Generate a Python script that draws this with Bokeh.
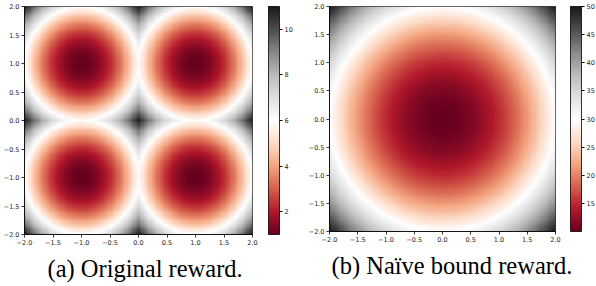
import numpy as np
from bokeh.plotting import figure
from bokeh.models import (LinearColorMapper, ColorBar, FixedTicker, Range1d,
                          CustomJSTickFormatter, Title, LinearAxis)
from bokeh.layouts import row
from bokeh.embed import file_html
from bokeh.resources import INLINE

# ---- data ----
axis_ticks = [-2.0, -1.5, -1.0, -0.5, 0.0, 0.5, 1.0, 1.5, 2.0]
grid_range = [-2.0, 2.0]
n_points = 200
# (a) original reward: quadratic wells around four goals
goal_x = [-1.0, 1.0, -1.0, 1.0]
goal_y = [1.0, 1.0, -1.0, -1.0]
orig_base = 1.0
orig_scale = 5.0
# (b) naive bound reward: one bowl around the origin
bowl_x = [0.0]
bowl_y = [0.0]
naive_base = 10.0
naive_scale = 5.0
cbar_ticks_a = [2, 4, 6, 8, 10]
cbar_ticks_b = [15, 20, 25, 30, 35, 40, 45, 50]
captions = ["(a) Original reward.", "(b) Naïve bound reward."]
rdgy = ['#67001f', '#b2182b', '#d6604d', '#f4a582', '#fddbc7', '#ffffff',
        '#e0e0e0', '#bababa', '#878787', '#4d4d4d', '#1a1a1a']

# ---- colormap (matplotlib RdGy, 256 steps) ----
def interp_palette(cols, n=256):
    rgb = np.array([[int(c[i:i + 2], 16) for i in (1, 3, 5)] for c in cols], float)
    pos = np.linspace(0, 1, len(cols))
    out = []
    for v in np.linspace(0, 1, n):
        r, g, b = (np.interp(v, pos, rgb[:, k]) for k in range(3))
        out.append('#%02x%02x%02x' % (int(round(r)), int(round(g)), int(round(b))))
    return out

palette = interp_palette(rdgy)

cs = np.linspace(grid_range[0], grid_range[1], n_points)
X, Y = np.meshgrid(cs, cs)

def field(cx, cy, base, scale):
    d2 = np.min([(X - a) ** 2 + (Y - b) ** 2 for a, b in zip(cx, cy)], axis=0)
    return base + scale * d2

Z_a = field(goal_x, goal_y, orig_base, orig_scale)
Z_b = field(bowl_x, bowl_y, naive_base, naive_scale)

fmt = CustomJSTickFormatter(code="return tick.toFixed(1).replace('-', '\u2212');")

def panel(Z, cticks, caption, fw, fh, b_left, b_top, b_right, gap, cap_offset):
    mapper = LinearColorMapper(palette=palette, low=float(Z.min()), high=float(Z.max()))
    p = figure(frame_width=fw, frame_height=fh, output_backend="svg", toolbar_location=None,
               x_range=Range1d(*grid_range), y_range=Range1d(*grid_range),
               min_border_left=b_left, min_border_top=b_top, min_border_right=b_right,
               min_border_bottom=0, border_fill_color="white")
    p.image(image=[Z], x=grid_range[0], y=grid_range[0], dw=4, dh=4, color_mapper=mapper)
    p.grid.visible = False
    p.outline_line_color = "black"
    p.outline_line_width = 0.8
    for ax in (p.xaxis, p.yaxis):
        ax.ticker = FixedTicker(ticks=axis_ticks)
        ax.formatter = fmt
        ax.major_label_text_font = "DejaVu Sans"
        ax.major_label_text_font_size = "6.5px"
        ax.major_label_text_color = "#222222"
        ax.axis_line_color = "black"
        ax.axis_line_width = 0.8
        ax.major_tick_line_width = 0.8
        ax.major_tick_out = 3
        ax.major_tick_in = 0
        ax.minor_tick_line_color = None
        ax.major_label_standoff = 2
    # invisible spacer between frame and colour bar
    spacer = LinearAxis(ticker=FixedTicker(ticks=[0.0]), axis_line_color=None,
                        major_tick_line_color=None, major_tick_out=gap, major_tick_in=0,
                        minor_tick_line_color=None, major_label_text_font_size="0px",
                        major_label_text_color=None, major_label_standoff=0)
    p.add_layout(spacer, "right")
    cb = ColorBar(color_mapper=mapper, ticker=FixedTicker(ticks=cticks), width=11, height=fh,
                  padding=0, margin=0, bar_line_color="black", bar_line_width=0.8,
                  border_line_color=None, background_fill_color=None,
                  major_tick_out=3, major_tick_in=0, major_tick_line_color="black",
                  major_label_text_font="DejaVu Sans", major_label_text_font_size="6.5px",
                  major_label_text_color="#222222", label_standoff=2,
                  minor_tick_line_color=None)
    p.add_layout(cb, "right")
    t = Title(text=caption, align="left", offset=cap_offset, text_font="Liberation Serif",
              text_font_size="24.5px", text_font_style="normal", text_color="black", standoff=11)
    p.add_layout(t, "below")
    return p

p1 = panel(Z_a, cbar_ticks_a, captions[0], 228, 228, 23, 3, 49, 16, 23)
p2 = panel(Z_b, cbar_ticks_b, captions[1], 226, 225, 28, 6, 42, 15, 2)
layout = row(p1, p2)

open("out.html", "w").write(file_html(layout, INLINE))
